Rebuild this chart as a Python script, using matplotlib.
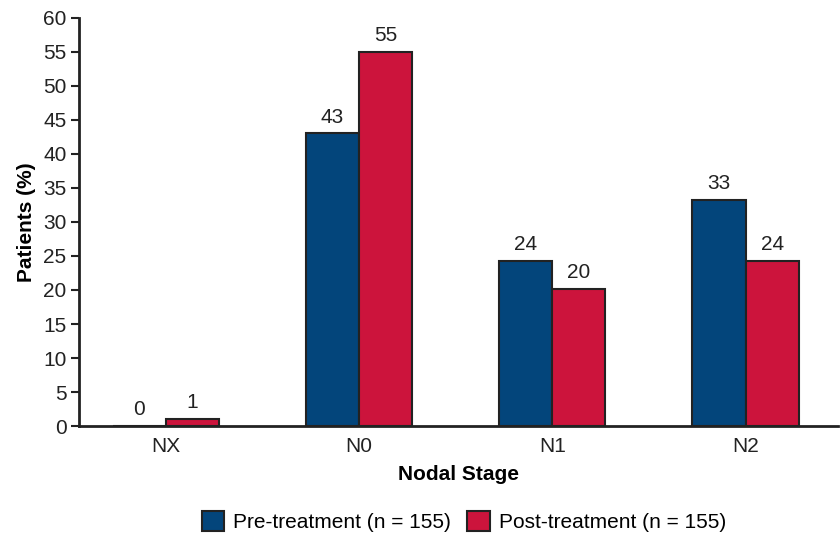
import matplotlib
matplotlib.use("Agg")
import matplotlib.pyplot as plt
import numpy as np

plt.rcParams['font.family'] = ['Liberation Sans', 'DejaVu Sans']

stages = ['NX', 'N0', 'N1', 'N2']
pre_values = [0, 43, 24.2, 33.2]
post_values = [1.1, 55, 20.1, 24.2]
pre_labels = ['0', '43', '24', '33']
post_labels = ['1', '55', '20', '24']
yticks = list(range(0, 61, 5))

blue = '#03457b'
red = '#cc143c'
edge = '#222222'
fs = 15

fig = plt.figure(figsize=(8.4, 5.38), dpi=100)
ax = fig.add_axes([0.094, 0.208, 0.904, 0.759])

x = np.arange(len(stages))
w = 0.275
b1 = ax.bar(x - w / 2, pre_values, w, color=blue, edgecolor=edge, linewidth=1.5,
            label='Pre-treatment (n = 155)')
b2 = ax.bar(x + w / 2, post_values, w, color=red, edgecolor=edge, linewidth=1.5,
            label='Post-treatment (n = 155)')

for bars, labels in [(b1, pre_labels), (b2, post_labels)]:
    for rect, lab in zip(bars, labels):
        ax.annotate(lab, (rect.get_x() + rect.get_width() / 2, rect.get_height()),
                    xytext=(0, 5), textcoords='offset points', ha='center', va='bottom',
                    fontsize=fs, color='#222222')

ax.set_xlim(-0.45, 3.48)
ax.set_ylim(0, 60)
ax.set_yticks(yticks)
ax.set_xticks(x)
ax.set_xticklabels(stages)
ax.tick_params(axis='x', length=0, pad=8, labelsize=fs, colors='#222222')
ax.tick_params(axis='y', length=6, width=1.5, pad=3, labelsize=fs, colors='#222222')
for s in ['top', 'right']:
    ax.spines[s].set_visible(False)
for s in ['left', 'bottom']:
    ax.spines[s].set_linewidth(2)
    ax.spines[s].set_color('#222222')

ax.set_ylabel('Patients (%)', fontsize=fs, fontweight='bold', labelpad=5)
ax.set_xlabel('Nodal Stage', fontsize=fs, fontweight='bold', labelpad=6)

fig.legend(handles=[b1, b2], loc='center', bbox_to_anchor=(0.552, 0.03), ncol=2,
           frameon=False, fontsize=fs, handlelength=1.1, handleheight=1.1,
           handletextpad=0.4, columnspacing=0.8)

fig.savefig('out.png', dpi=100)
